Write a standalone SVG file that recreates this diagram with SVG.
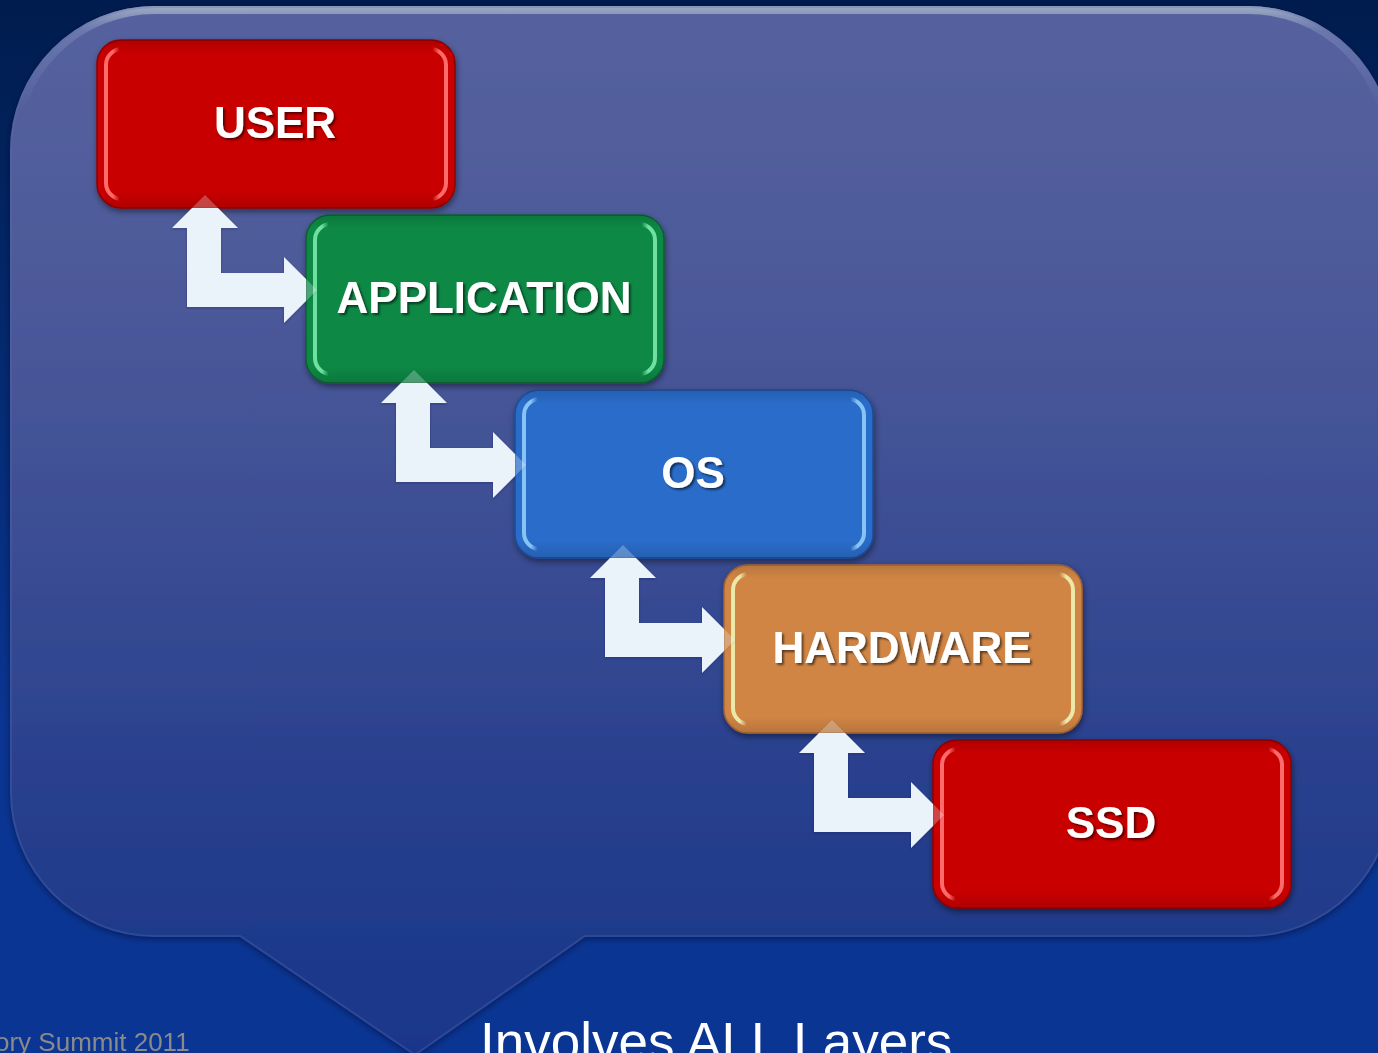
<svg xmlns="http://www.w3.org/2000/svg" width="1378" height="1053" viewBox="0 0 1378 1053">
  <defs>
    <linearGradient id="bg" x1="0" y1="0" x2="0" y2="1053" gradientUnits="userSpaceOnUse">
      <stop offset="0" stop-color="#001c4e"/>
      <stop offset="0.35" stop-color="#042a70"/>
      <stop offset="0.7" stop-color="#0a3592"/>
      <stop offset="1" stop-color="#0a3593"/>
    </linearGradient>
    <linearGradient id="bubbleFill" x1="0" y1="6" x2="0" y2="1056" gradientUnits="userSpaceOnUse">
      <stop offset="0" stop-color="#55629f"/>
      <stop offset="0.25" stop-color="#4e5a9a"/>
      <stop offset="0.5" stop-color="#3c4e94"/>
      <stop offset="0.72" stop-color="#2a418e"/>
      <stop offset="0.88" stop-color="#1f3a8a"/>
      <stop offset="1" stop-color="#19368a"/>
    </linearGradient>
    <linearGradient id="rim" x1="0" y1="6" x2="0" y2="110" gradientUnits="userSpaceOnUse">
      <stop offset="0" stop-color="#a4b0c4" stop-opacity="0.95"/>
      <stop offset="0.25" stop-color="#8a98c0" stop-opacity="0.4"/>
      <stop offset="1" stop-color="#8a98c0" stop-opacity="0"/>
    </linearGradient>
    <clipPath id="bubbleClip">
      <path id="bubbleShape" d="M155 6 H1248 A145 145 0 0 1 1393 151 V792 A145 145 0 0 1 1248 937 H585 L415 1056 L240 937 H155 A145 145 0 0 1 10 792 V151 A145 145 0 0 1 155 6 Z"/>
    </clipPath>

    <!-- side highlight bands for the glossy layer boxes -->
    <linearGradient id="hlRed" x1="0" y1="0" x2="1" y2="0">
      <stop offset="0" stop-color="#ff6a6a"/><stop offset="0.02" stop-color="#ff6a6a"/>
      <stop offset="0.04" stop-color="#ff6a6a" stop-opacity="0"/><stop offset="0.96" stop-color="#ff6a6a" stop-opacity="0"/>
      <stop offset="0.98" stop-color="#ff6a6a"/><stop offset="1" stop-color="#ff6a6a"/>
    </linearGradient>
    <linearGradient id="hlGreen" x1="0" y1="0" x2="1" y2="0">
      <stop offset="0" stop-color="#6ee0a0"/><stop offset="0.02" stop-color="#6ee0a0"/>
      <stop offset="0.04" stop-color="#6ee0a0" stop-opacity="0"/><stop offset="0.96" stop-color="#6ee0a0" stop-opacity="0"/>
      <stop offset="0.98" stop-color="#6ee0a0"/><stop offset="1" stop-color="#6ee0a0"/>
    </linearGradient>
    <linearGradient id="hlBlue" x1="0" y1="0" x2="1" y2="0">
      <stop offset="0" stop-color="#86c4f4"/><stop offset="0.02" stop-color="#86c4f4"/>
      <stop offset="0.04" stop-color="#86c4f4" stop-opacity="0"/><stop offset="0.96" stop-color="#86c4f4" stop-opacity="0"/>
      <stop offset="0.98" stop-color="#86c4f4"/><stop offset="1" stop-color="#86c4f4"/>
    </linearGradient>
    <linearGradient id="hlOrange" x1="0" y1="0" x2="1" y2="0">
      <stop offset="0" stop-color="#ece8a8"/><stop offset="0.02" stop-color="#ece8a8"/>
      <stop offset="0.04" stop-color="#ece8a8" stop-opacity="0"/><stop offset="0.96" stop-color="#ece8a8" stop-opacity="0"/>
      <stop offset="0.98" stop-color="#ece8a8"/><stop offset="1" stop-color="#ece8a8"/>
    </linearGradient>
    <linearGradient id="shade" x1="0" y1="0" x2="0" y2="1">
      <stop offset="0" stop-color="#000" stop-opacity="0.12"/>
      <stop offset="0.08" stop-color="#000" stop-opacity="0"/>
      <stop offset="0.9" stop-color="#000" stop-opacity="0"/>
      <stop offset="1" stop-color="#000" stop-opacity="0.12"/>
    </linearGradient>

    <filter id="bubbleShadow" x="-5%" y="-5%" width="110%" height="110%">
      <feDropShadow dx="0" dy="2" stdDeviation="3" flood-color="#000820" flood-opacity="0.45"/>
    </filter>
    <filter id="boxShadow" x="-10%" y="-10%" width="120%" height="130%">
      <feDropShadow dx="1" dy="3" stdDeviation="3" flood-color="#000" flood-opacity="0.45"/>
    </filter>
    <filter id="textShadow" x="-10%" y="-20%" width="120%" height="150%">
      <feDropShadow dx="2" dy="2" stdDeviation="1.2" flood-color="#000" flood-opacity="0.55"/>
    </filter>
    <filter id="arrowShadow" x="-10%" y="-10%" width="120%" height="120%">
      <feDropShadow dx="0" dy="1" stdDeviation="1" flood-color="#1a2050" flood-opacity="0.35"/>
    </filter>

    <!-- arrows show through faintly where they overlap a layer box -->
    <mask id="arrowMask" maskUnits="userSpaceOnUse" x="0" y="0" width="1378" height="1053">
      <rect x="0" y="0" width="1378" height="1053" fill="#fff"/>
      <g fill="#474747">
        <rect x="97" y="40" width="358" height="168" rx="24"/>
        <rect x="306" y="215" width="358" height="168" rx="24"/>
        <rect x="515" y="390" width="358" height="168" rx="24"/>
        <rect x="724" y="565" width="358" height="168" rx="24"/>
        <rect x="933" y="740" width="358" height="168" rx="24"/>
      </g>
    </mask>

    <path id="elbow" d="M172 228 L205 195 L238 228 L221 228 L221 273 L284 273 L284 257 L317 290 L284 323 L284 307 L187 307 L187 228 Z"/>
  </defs>

  <style>
    .box-outer { stroke-width: 1.5; }
    .red .box-outer { fill: #c80000; stroke: #8e0000; }
    .green .box-outer { fill: #118844; stroke: #0a5f2f; }
    .blue .box-outer { fill: #2b6cc9; stroke: #1c4d98; }
    .orange .box-outer { fill: #d08545; stroke: #a86530; }
    .box-inner { fill: none; stroke-width: 4; }
    .red .box-inner { stroke: url(#hlRed); }
    .green .box-inner { stroke: url(#hlGreen); }
    .blue .box-inner { stroke: url(#hlBlue); }
    .orange .box-inner { stroke: url(#hlOrange); }
    .box-shade { fill: url(#shade); }
    .label { font-family: "Liberation Sans", Arial, sans-serif; font-weight: bold; font-size: 44px; fill: #ffffff; text-anchor: middle; filter: url(#textShadow); }
    .arrow { fill: #eaf3f9; }
    .footer { font-family: "Liberation Sans", Arial, sans-serif; font-size: 26px; fill: #8a8a8a; }
    .caption { font-family: "Liberation Sans", Arial, sans-serif; font-size: 53px; fill: #ffffff; }
  </style>

  <!-- page background -->
  <rect x="0" y="0" width="1378" height="1053" fill="url(#bg)"/>

  <!-- speech-bubble panel -->
  <g id="panel">
    <use href="#bubbleShape" fill="url(#bubbleFill)" filter="url(#bubbleShadow)"/>
    <g clip-path="url(#bubbleClip)">
      <use href="#bubbleShape" fill="none" stroke="url(#rim)" stroke-width="16"/>
      <use href="#bubbleShape" fill="none" stroke="#5a6cb0" stroke-opacity="0.3" stroke-width="4"/>
    </g>
  </g>

  <!-- layer boxes -->
  <g id="node-user" class="red">
    <g filter="url(#boxShadow)">
      <rect class="box-outer" x="97" y="40" width="358" height="168" rx="24"/>
    </g>
    <rect class="box-shade" x="97" y="40" width="358" height="168" rx="24"/>
    <rect class="box-inner" x="106" y="49" width="340" height="150" rx="16"/>
    <text class="label" x="275" y="138">USER</text>
  </g>

  <g id="node-application" class="green">
    <g filter="url(#boxShadow)">
      <rect class="box-outer" x="306" y="215" width="358" height="168" rx="24"/>
    </g>
    <rect class="box-shade" x="306" y="215" width="358" height="168" rx="24"/>
    <rect class="box-inner" x="315" y="224" width="340" height="150" rx="16"/>
    <text class="label" x="484" y="313">APPLICATION</text>
  </g>

  <g id="node-os" class="blue">
    <g filter="url(#boxShadow)">
      <rect class="box-outer" x="515" y="390" width="358" height="168" rx="24"/>
    </g>
    <rect class="box-shade" x="515" y="390" width="358" height="168" rx="24"/>
    <rect class="box-inner" x="524" y="399" width="340" height="150" rx="16"/>
    <text class="label" x="693" y="488">OS</text>
  </g>

  <g id="node-hardware" class="orange">
    <g filter="url(#boxShadow)">
      <rect class="box-outer" x="724" y="565" width="358" height="168" rx="24"/>
    </g>
    <rect class="box-shade" x="724" y="565" width="358" height="168" rx="24"/>
    <rect class="box-inner" x="733" y="574" width="340" height="150" rx="16"/>
    <text class="label" x="902" y="663">HARDWARE</text>
  </g>

  <g id="node-ssd" class="red">
    <g filter="url(#boxShadow)">
      <rect class="box-outer" x="933" y="740" width="358" height="168" rx="24"/>
    </g>
    <rect class="box-shade" x="933" y="740" width="358" height="168" rx="24"/>
    <rect class="box-inner" x="942" y="749" width="340" height="150" rx="16"/>
    <text class="label" x="1111" y="838">SSD</text>
  </g>

  <!-- two-way elbow arrows between adjacent layers -->
  <g id="connectors" mask="url(#arrowMask)">
    <g filter="url(#arrowShadow)">
      <use class="arrow" href="#elbow"/>
      <use class="arrow" href="#elbow" transform="translate(209 175)"/>
      <use class="arrow" href="#elbow" transform="translate(418 350)"/>
      <use class="arrow" href="#elbow" transform="translate(627 525)"/>
    </g>
  </g>

  <!-- footer texts -->
  <text class="footer" x="-5" y="1051">ory Summit 2011</text>
  <text class="caption" x="480" y="1060">Involves ALL Layers</text>
</svg>
